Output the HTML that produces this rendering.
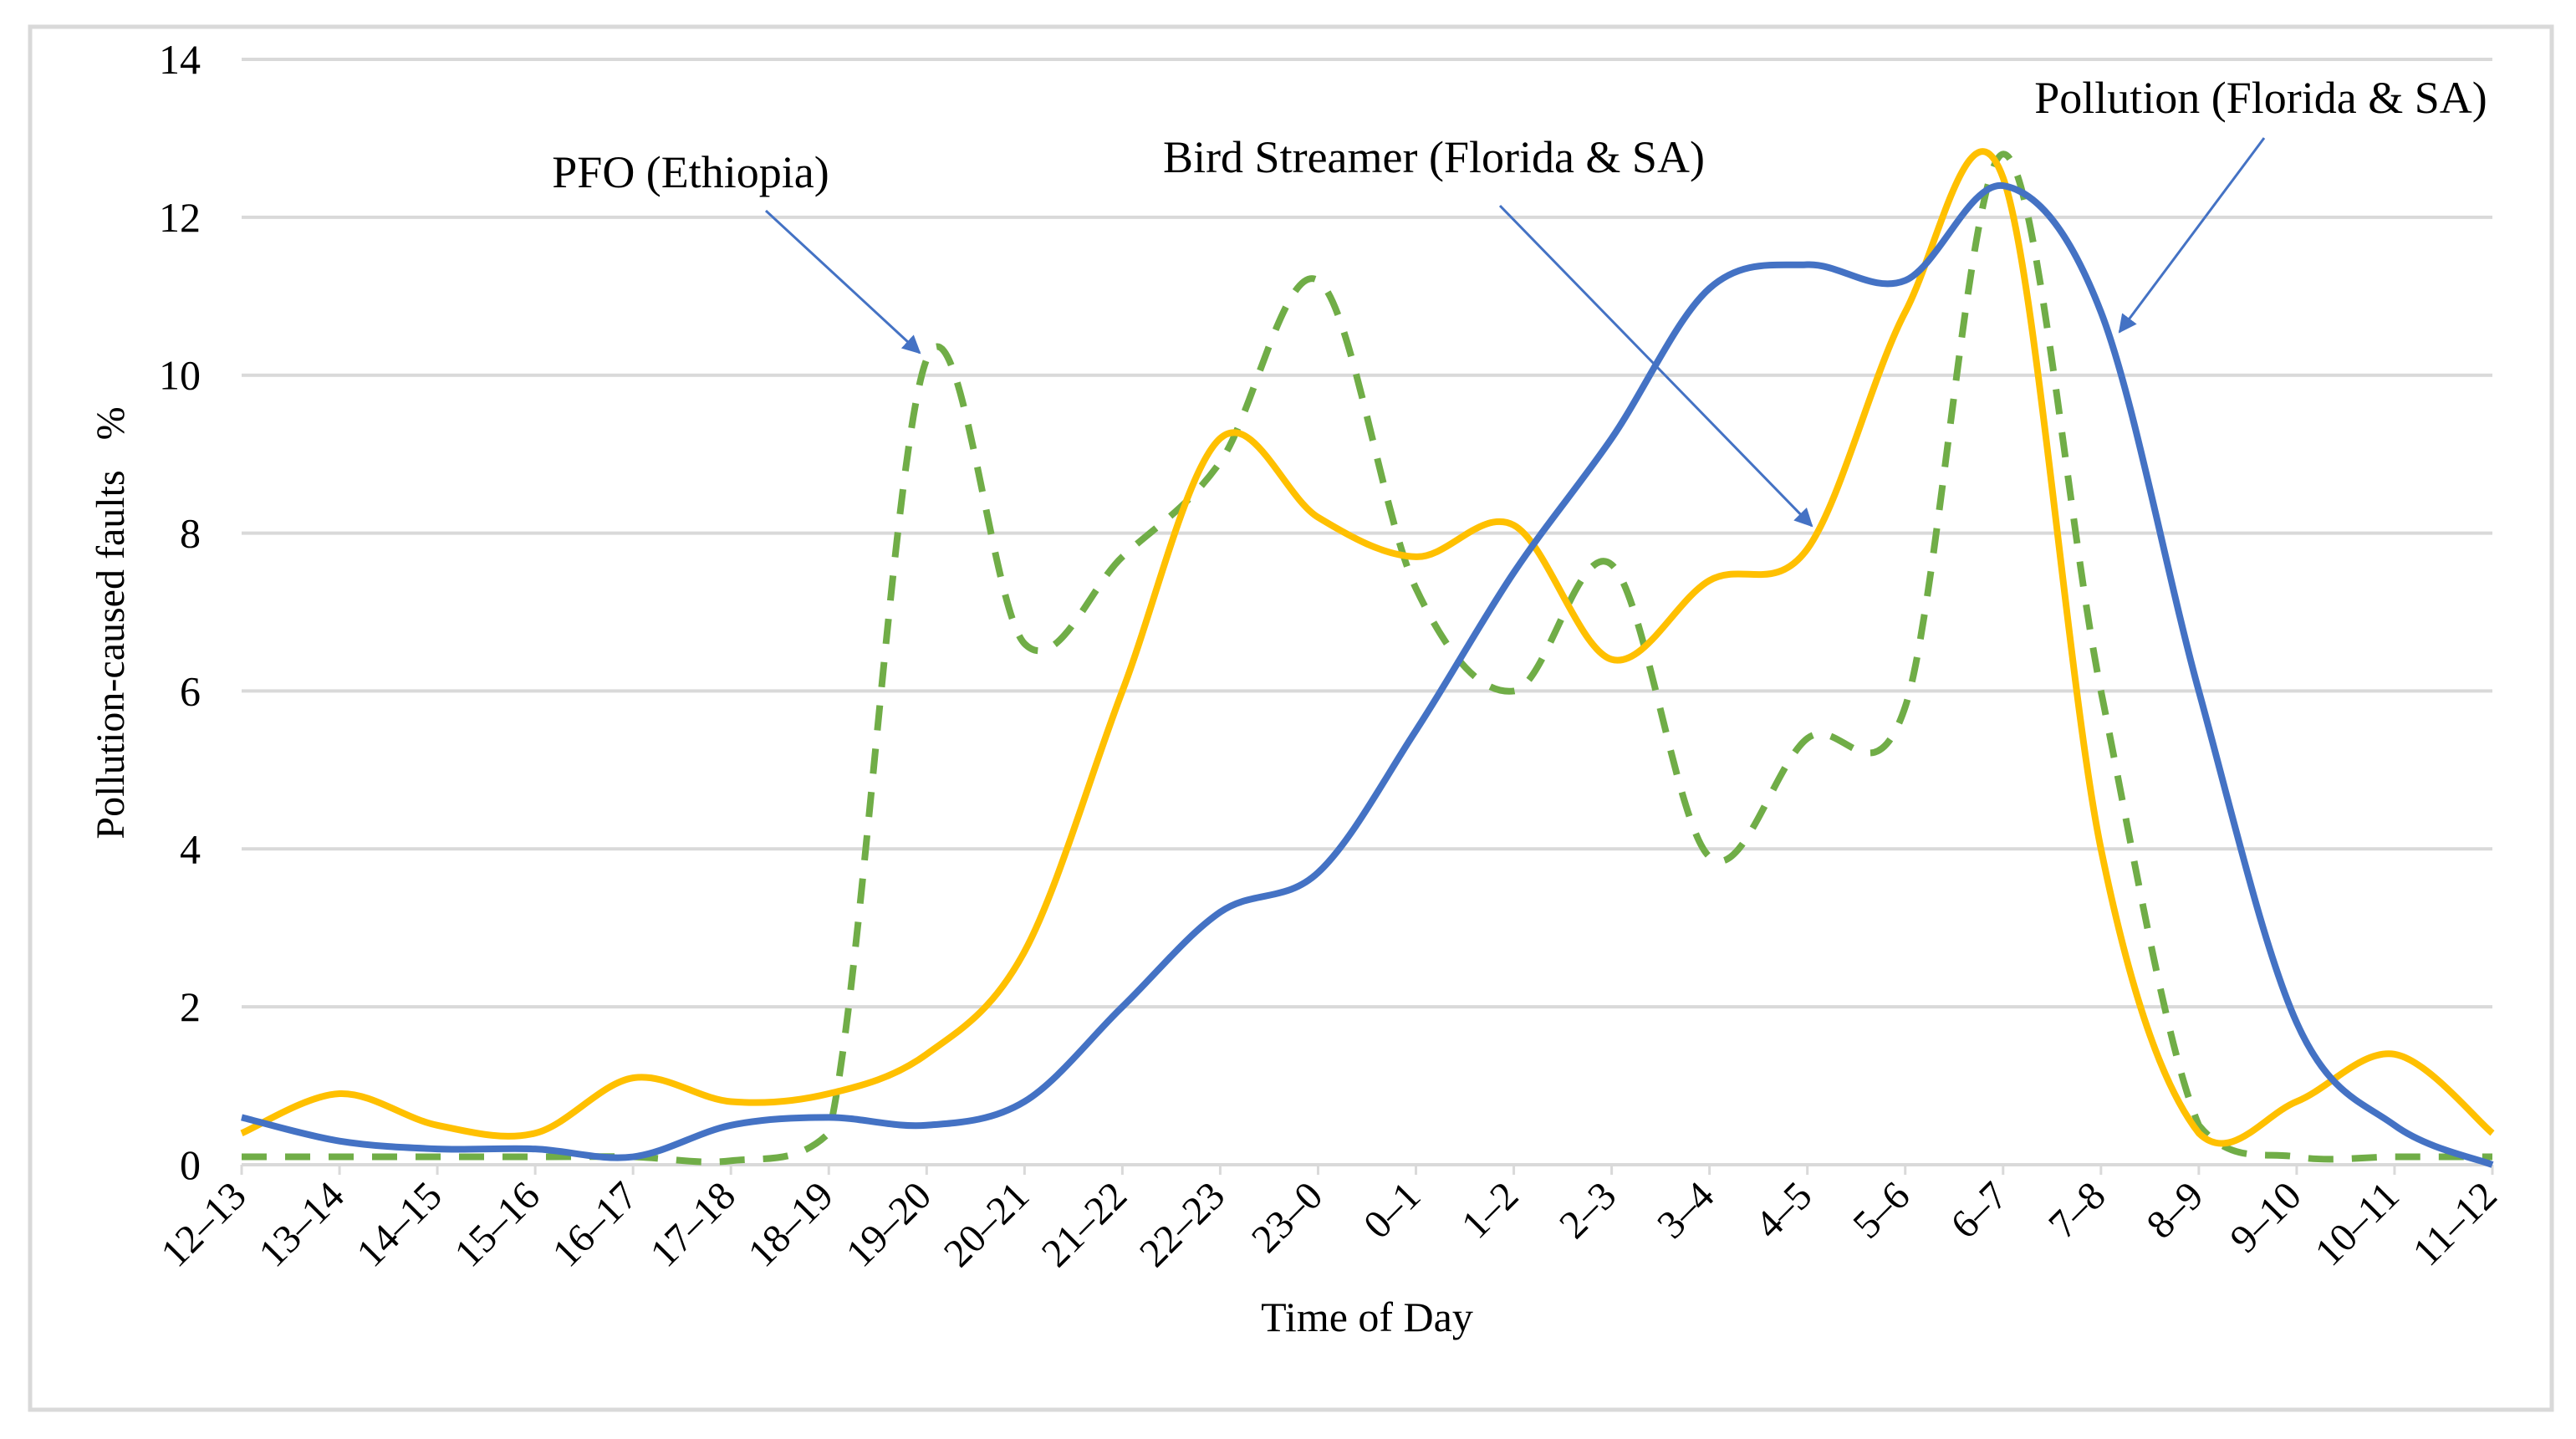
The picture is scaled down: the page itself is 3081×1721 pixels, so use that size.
<!DOCTYPE html>
<html><head><meta charset="utf-8"><style>
html,body{margin:0;padding:0;background:#fff;}
svg{display:block;font-family:"Liberation Serif",serif;}
</style></head><body>
<svg id="chart" width="3081" height="1721" viewBox="0 0 3081 1721">
<rect x="36" y="32" width="3016" height="1654" fill="#fff" stroke="#d9d9d9" stroke-width="5"/>
<g id="grid"></g>
<g id="yticks"></g>
<g id="xticks"></g>
<g id="series"></g>
<text transform="translate(148,745) rotate(-90)" text-anchor="middle" font-size="48" fill="#000" xml:space="preserve">Pollution-caused faults   %</text>
<text x="1635" y="1592" text-anchor="middle" font-size="50" fill="#000">Time of Day</text>
<defs><marker id="ah" markerWidth="22" markerHeight="22" refX="20" refY="11" orient="auto" markerUnits="userSpaceOnUse" viewBox="0 0 22 22"><path d="M0,0 L22,11 L0,22 z" fill="#4472c4"/></marker></defs>
<g>
<text x="826" y="224" text-anchor="middle" font-size="54">PFO (Ethiopia)</text>
<line x1="916" y1="252" x2="1100" y2="422" stroke="#4472c4" stroke-width="3" marker-end="url(#ah)"/>
</g>
<g>
<text x="1715" y="206" text-anchor="middle" font-size="54">Bird Streamer (Florida &amp; SA)</text>
<line x1="1794" y1="246" x2="2167" y2="629" stroke="#4472c4" stroke-width="3" marker-end="url(#ah)"/>
</g>
<g>
<text x="2704" y="135" text-anchor="middle" font-size="54">Pollution (Florida &amp; SA)</text>
<line x1="2708" y1="165" x2="2535" y2="397" stroke="#4472c4" stroke-width="3" marker-end="url(#ah)"/>
</g>
</svg>
<script>
const categories=["12–13","13–14","14–15","15–16","16–17","17–18","18–19","19–20","20–21","21–22","22–23","23–0","0–1","1–2","2–3","3–4","4–5","5–6","6–7","7–8","8–9","9–10","10–11","11–12"];
const pollution=[0.6,0.3,0.2,0.2,0.1,0.5,0.6,0.5,0.8,2.0,3.2,3.7,5.5,7.5,9.2,11.1,11.4,11.2,12.4,10.8,6.0,1.8,0.5,0.0];
const birdStreamer=[0.4,0.9,0.5,0.4,1.1,0.8,0.9,1.4,2.7,6.0,9.2,8.2,7.7,8.1,6.4,7.4,7.8,10.8,12.5,4.0,0.4,0.8,1.4,0.4];
const pfo=[0.1,0.1,0.1,0.1,0.1,0.05,0.4,10.2,6.6,7.7,8.9,11.2,7.3,6.0,7.6,3.9,5.4,5.8,12.8,6.0,0.5,0.1,0.1,0.1];
const yTicks=[0,2,4,6,8,10,12,14];

const X0=289,X1=2981,Y0=1393,Y14=71;
const NS="http://www.w3.org/2000/svg";
function xs(i){return X0+(X1-X0)*i/(categories.length-1);}
function ys(v){return Y0-(Y0-Y14)*v/14;}
function mk(tag,attrs,parent){const e=document.createElementNS(NS,tag);for(const k in attrs)e.setAttribute(k,attrs[k]);parent.appendChild(e);return e;}
const grid=document.getElementById('grid'),yt=document.getElementById('yticks'),xt=document.getElementById('xticks'),ser=document.getElementById('series');
yTicks.forEach(v=>{
  const l=mk('line',{x1:X0,x2:X1,y1:ys(v),y2:ys(v),stroke:'#d9d9d9','stroke-width':4},grid);
  
  
  const t=mk('text',{x:240,y:ys(v)+17,'text-anchor':'end','font-size':50,fill:'#000'},yt);
  t.textContent=v;
  
  
});
categories.forEach((c,i)=>{
  const tk=mk('line',{x1:xs(i),x2:xs(i),y1:Y0,y2:Y0+12,stroke:'#d9d9d9','stroke-width':3},xt);
  
  
  const t=mk('text',{transform:`translate(${xs(i)+8},${Y0+40}) rotate(-45)`,'text-anchor':'end','font-size':48,fill:'#000'},xt);
  t.textContent=c;
  
  
});
function smooth(vals){
  const p=vals.map((v,i)=>[xs(i),ys(v)]);
  const cl=y=>Math.min(y,Y0);
  let d=`M${p[0][0]},${p[0][1]}`;
  for(let i=0;i<p.length-1;i++){
    const p0=p[Math.max(i-1,0)],p1=p[i],p2=p[i+1],p3=p[Math.min(i+2,p.length-1)];
    const t=1/6;
    d+=` C${p1[0]+(p2[0]-p0[0])*t},${cl(p1[1]+(p2[1]-p0[1])*t)} ${p2[0]-(p3[0]-p1[0])*t},${cl(p2[1]-(p3[1]-p1[1])*t)} ${p2[0]},${p2[1]}`;
  }
  return d;
}
const p1=mk('path',{d:smooth(pfo),fill:'none',stroke:'#70ad47','stroke-width':8,'stroke-dasharray':'30 22'},ser);


const p2=mk('path',{d:smooth(birdStreamer),fill:'none',stroke:'#ffc000','stroke-width':8},ser);


const p3=mk('path',{d:smooth(pollution),fill:'none',stroke:'#4472c4','stroke-width':8},ser);


</script>
</body></html>
